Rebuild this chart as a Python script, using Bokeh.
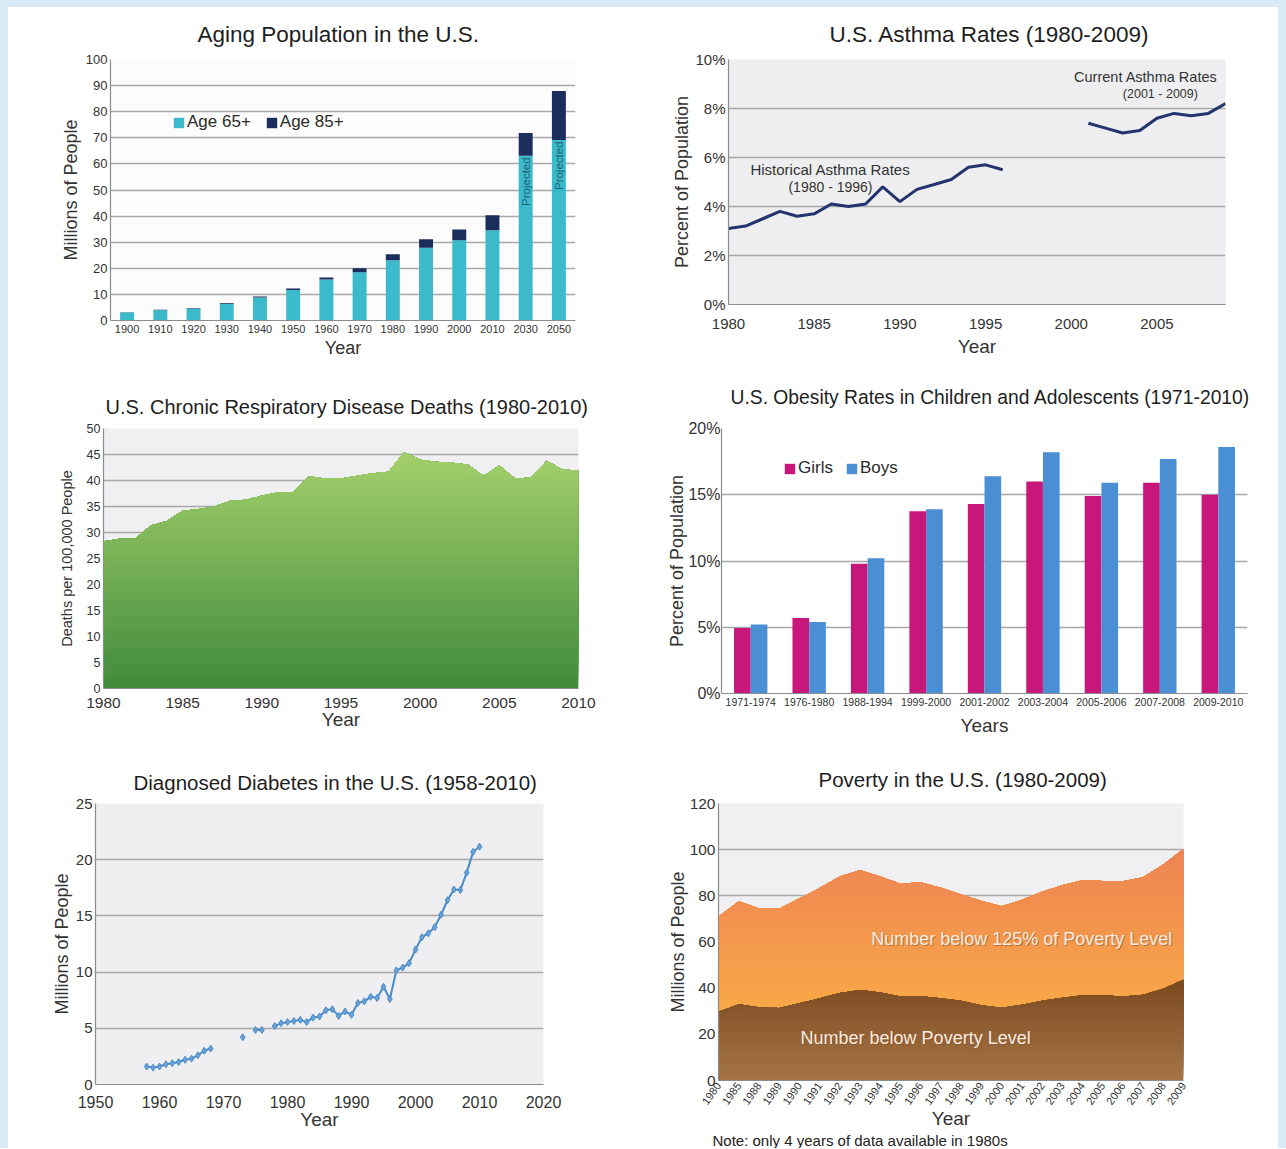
import math
import numpy as np
from bokeh.plotting import figure
from bokeh.layouts import column, row
from bokeh.models import (ColumnDataSource, FactorRange, Range1d, FixedTicker, Legend,
                          LegendItem, PrintfTickFormatter, Title)
from bokeh.transform import dodge
from bokeh.core.properties import value
from bokeh.embed import file_html
from bokeh.resources import INLINE

FONT = "Liberation Sans"
TXT = "#2b2b2b"
GRID = "#a8a8a8"
nan = float("nan")

# ---------------- data ----------------
aging_years = ["1900", "1910", "1920", "1930", "1940", "1950", "1960", "1970",
               "1980", "1990", "2000", "2010", "2030", "2050"]
age_65_84 = [3.1, 3.9, 4.6, 6.4, 8.8, 11.7, 15.7, 18.5, 23.1, 27.9, 30.7, 34.6, 63.1, 69.2]
age_85_plus = [0.1, 0.2, 0.2, 0.3, 0.4, 0.6, 0.8, 1.5, 2.3, 3.2, 4.2, 5.7, 8.7, 18.7]
projected_years = ["2030", "2050"]

asthma_hist_years = list(range(1980, 1997))
asthma_hist = [3.1, 3.2, 3.5, 3.8, 3.6, 3.7, 4.1, 4.0, 4.1, 4.8, 4.2, 4.7, 4.9, 5.1, 5.6, 5.7, 5.5]
asthma_curr_years = list(range(2001, 2010))
asthma_curr = [7.4, 7.2, 7.0, 7.1, 7.6, 7.8, 7.7, 7.8, 8.2]

resp_years = list(range(1980, 2011))
resp_deaths = [28.3, 28.8, 28.8, 31.4, 32.2, 34.2, 34.5, 35.0, 36.1, 36.3, 37.1, 37.7,
               37.8, 40.8, 40.4, 40.4, 40.9, 41.4, 41.7, 45.5, 44.0, 43.6, 43.4, 43.1,
               40.9, 42.9, 40.4, 40.6, 43.8, 42.1, 41.9]

obesity_periods = ["1971-1974", "1976-1980", "1988-1994", "1999-2000", "2001-2002",
                   "2003-2004", "2005-2006", "2007-2008", "2009-2010"]
obesity_girls = [4.95, 5.7, 9.8, 13.75, 14.3, 16.0, 14.9, 15.9, 15.0]
obesity_boys = [5.2, 5.4, 10.2, 13.9, 16.4, 18.2, 15.9, 17.7, 18.6]

diab_years = list(range(1958, 2011))
diab_millions = [1.6, 1.5, 1.6, 1.8, 1.9, 2.0, 2.2, 2.3, 2.6, 3.0, 3.2,
                 nan, nan, nan, nan, 4.2, nan, 4.85, 4.85, nan,
                 5.2, 5.45, 5.55, 5.65, 5.75, 5.55, 5.95, 6.05, 6.6, 6.7, 6.1, 6.5,
                 6.2, 7.25, 7.4, 7.8, 7.7, 8.7, 7.6, 10.15, 10.4, 10.8, 12.0, 13.1,
                 13.45, 14.0, 15.1, 16.4, 17.35, 17.3, 18.85, 20.7, 21.15]

poverty_years = ["1980", "1985", "1988", "1989"] + [str(y) for y in range(1990, 2010)]
below_poverty = [29.8, 33.0, 31.7, 31.4, 33.5, 35.6, 37.9, 39.2, 38.1, 36.4, 36.5, 35.6,
                 34.5, 32.6, 31.5, 32.8, 34.5, 35.8, 36.9, 36.9, 36.4, 37.2, 39.8, 43.6]
below_125pct = [41.2, 44.7, 42.9, 43.0, 45.3, 47.8, 50.5, 52.0, 50.3, 48.8, 49.4, 47.9,
                46.1, 45.3, 44.0, 45.5, 47.3, 48.8, 49.9, 49.5, 49.9, 50.9, 53.8, 56.7]


# ---------------- helpers ----------------
def hex_rgb(h):
    h = h.lstrip("#")
    return tuple(int(h[i:i + 2], 16) for i in (0, 2, 4))


def mix(c1, c2, t):
    a, b = hex_rgb(c1), hex_rgb(c2)
    return "#%02x%02x%02x" % tuple(int(round(a[i] + (b[i] - a[i]) * t)) for i in range(3))


def gradient_area(p, x, lower, upper, y_lo, y_hi, c_lo, c_hi, n=40):
    lower = np.asarray(lower, float)
    upper = np.asarray(upper, float)
    for k in range(n):
        lev = y_lo + (y_hi - y_lo) * k / n
        col = mix(c_lo, c_hi, k / (n - 1))
        y1 = np.minimum(np.maximum(lower, lev), upper)
        p.varea(x=x, y1=y1, y2=upper, fill_color=col, fill_alpha=1.0)


def make_fig(title, fw, fh, left, right, top, bottom, bg, x_range, y_range,
             title_size="20px", title_standoff=10, title_offset=0):
    p = figure(frame_width=fw, frame_height=fh, min_border_left=left, min_border_right=right,
               min_border_top=top, min_border_bottom=bottom, output_backend="svg",
               toolbar_location=None, background_fill_color=bg, border_fill_color="white",
               outline_line_color=None, x_range=x_range, y_range=y_range)
    p.title.text = title
    p.title.text_font = FONT
    p.title.text_font_size = title_size
    p.title.text_font_style = "normal"
    p.title.text_color = "#1e1e1e"
    p.title.align = "left"
    p.title.standoff = title_standoff
    p.title.offset = title_offset
    for ax in p.axis:
        ax.axis_line_color = "#8c8c8c"
        ax.axis_line_width = 1.2
        ax.major_tick_line_color = None
        ax.minor_tick_line_color = None
        ax.major_tick_out = 0
        ax.major_tick_in = 0
        ax.major_label_standoff = 3
        ax.major_label_text_font = FONT
        ax.major_label_text_color = "#333333"
        ax.major_label_text_font_size = "12px"
        ax.axis_label_text_font = FONT
        ax.axis_label_text_font_style = "normal"
        ax.axis_label_text_color = "#333333"
        ax.axis_label_text_font_size = "18px"
    p.xgrid.grid_line_color = None
    p.ygrid.grid_line_color = GRID
    p.ygrid.grid_line_width = 1.5
    return p


def style_legend(leg, size="17px"):
    leg.background_fill_alpha = 0
    leg.border_line_alpha = 0
    leg.padding = 0
    leg.margin = 0
    leg.glyph_width = 13
    leg.glyph_height = 13
    leg.label_standoff = 2
    leg.label_height = 14
    leg.label_text_font = FONT
    leg.label_text_font_size = size
    leg.label_text_color = TXT


# ---------------- 1. Aging population ----------------
p1 = make_fig("Aging Population in the U.S.", 465, 261, 102, 68, 52, 42, "#fcfcfc",
              FactorRange(*aging_years), Range1d(0, 100), title_size="22.5px",
              title_standoff=25, title_offset=87)
src1 = ColumnDataSource(dict(year=aging_years, a65=age_65_84, a85=age_85_plus))
r1 = p1.vbar_stack(["a65", "a85"], x="year", width=0.42, source=src1,
                   color=["#3bbacb", "#1b2d5c"], line_color=None)
proj_idx = [aging_years.index(y) for y in projected_years]
p1.text(x=projected_years, y=[age_65_84[i] - 0.6 for i in proj_idx], text=["Projected"] * 2,
        angle=math.pi / 2, text_align="right", text_baseline="middle",
        text_font=value(FONT), text_font_size="11.5px", text_color="#1f6478")
p1.yaxis.ticker = FixedTicker(ticks=list(range(0, 101, 10)))
p1.yaxis.major_label_text_font_size = "13px"
p1.yaxis.axis_label = "Millions of People"
p1.yaxis.axis_label_standoff = 2
p1.xaxis.axis_label = "Year"
p1.xaxis.axis_label_standoff = 2
p1.xaxis.major_label_text_font_size = "11px"
p1.xaxis.major_label_standoff = 4
leg1 = Legend(items=[LegendItem(label="Age 65+", renderers=[r1[0]]),
                     LegendItem(label="Age 85+", renderers=[r1[1]])],
              location=(62, 188), orientation="horizontal", spacing=14)
style_legend(leg1)
p1.add_layout(leg1)

# ---------------- 2. Asthma ----------------
p2 = make_fig("U.S. Asthma Rates (1980-2009)", 497, 245, 85, 53, 52, 58, "#eeeef0",
              Range1d(1980, 2009), Range1d(0, 10), title_size="22.5px",
              title_standoff=25, title_offset=101)
p2.line(asthma_hist_years, asthma_hist, line_width=3, color="#22336e")
p2.line(asthma_curr_years, asthma_curr, line_width=3, color="#22336e")
p2.text(x=[1985.95, 1985.95], y=[5.5, 4.8], text=["Historical Asthma Rates", "(1980 - 1996)"],
        text_align="center", text_baseline="middle", text_font=value(FONT),
        text_font_size=["15px", "14px"], text_color="#333333")
p2.text(x=[2004.35, 2005.2], y=[9.3, 8.6], text=["Current Asthma Rates", "(2001 - 2009)"],
        text_align="center", text_baseline="middle", text_font=value(FONT),
        text_font_size=["14.5px", "12.5px"], text_color="#333333")
p2.xaxis.ticker = FixedTicker(ticks=list(range(1980, 2006, 5)))
p2.yaxis.ticker = FixedTicker(ticks=list(range(0, 11, 2)))
p2.yaxis.formatter = PrintfTickFormatter(format="%d%%")
p2.xaxis.major_label_text_font_size = "15px"
p2.yaxis.major_label_text_font_size = "15px"
p2.xaxis.major_label_standoff = 14
p2.xaxis.axis_label = "Year"
p2.xaxis.axis_label_text_font_size = "19px"
p2.xaxis.axis_label_standoff = 4
p2.yaxis.axis_label = "Percent of Population"
p2.yaxis.axis_label_standoff = 0

# ---------------- 3. Chronic respiratory ----------------
p3 = make_fig("U.S. Chronic Respiratory Disease Deaths (1980-2010)", 475, 260, 95, 65, 66, 60,
              "#f0f0f2", Range1d(1980, 2010), Range1d(0, 50), title_size="20px",
              title_standoff=22, title_offset=2)
gradient_area(p3, resp_years, np.zeros(len(resp_years)), resp_deaths, 0, 46,
              "#438b3c", "#a3d06b", n=40)
p3.xaxis.ticker = FixedTicker(ticks=list(range(1980, 2011, 5)))
p3.yaxis.ticker = FixedTicker(ticks=list(range(0, 51, 5)))
p3.yaxis.major_label_text_font_size = "12.5px"
p3.xaxis.major_label_text_font_size = "15.5px"
p3.xaxis.major_label_standoff = 9
p3.xaxis.axis_label = "Year"
p3.xaxis.axis_label_text_font_size = "19px"
p3.xaxis.axis_label_standoff = -2
p3.yaxis.axis_label = "Deaths per 100,000 People"
p3.yaxis.axis_label_text_font_size = "14.5px"
p3.yaxis.axis_label_standoff = 9

# ---------------- 4. Obesity ----------------
p4 = make_fig("U.S. Obesity Rates in Children and Adolescents (1971-2010)", 526, 265, 78, 31, 66,
              55, "#ffffff", FactorRange(*obesity_periods), Range1d(0, 20),
              title_size="19.3px", title_standoff=42, title_offset=9)
src4 = ColumnDataSource(dict(period=obesity_periods, girls=obesity_girls, boys=obesity_boys))
rg = p4.vbar(x=dodge("period", -0.143, range=p4.x_range), top="girls", width=0.285,
             source=src4, color="#c8177a", line_color=None)
rb = p4.vbar(x=dodge("period", 0.143, range=p4.x_range), top="boys", width=0.285,
             source=src4, color="#4a8ed4", line_color=None)
p4.yaxis.ticker = FixedTicker(ticks=list(range(0, 21, 5)))
p4.yaxis.formatter = PrintfTickFormatter(format="%d%%")
p4.yaxis.major_label_text_font_size = "16px"
p4.yaxis.major_label_standoff = 1
p4.xaxis.major_label_text_font_size = "10.5px"
p4.xaxis.major_label_standoff = 4
p4.xaxis.axis_label = "Years"
p4.xaxis.axis_label_text_font_size = "19px"
p4.xaxis.axis_label_standoff = 6
p4.yaxis.axis_label = "Percent of Population"
p4.yaxis.axis_label_standoff = -2
leg4 = Legend(items=[LegendItem(label="Girls", renderers=[rg]),
                     LegendItem(label="Boys", renderers=[rb])],
              location=(62, 215), orientation="horizontal", spacing=12)
style_legend(leg4)
p4.add_layout(leg4)

# ---------------- 5. Diabetes ----------------
p5 = make_fig("Diagnosed Diabetes in the U.S. (1958-2010)", 448, 281, 87, 100, 55, 64, "#efeff1",
              Range1d(1950, 2020), Range1d(0, 25), title_size="20.5px",
              title_standoff=20, title_offset=38)
src5 = ColumnDataSource(dict(year=diab_years, val=diab_millions))
p5.line("year", "val", source=src5, line_width=2, color="#4a8ac8")
p5.scatter("year", "val", source=src5, marker="diamond", size=7, fill_color="#6aa3d8",
           line_color="#4a8ac8", line_width=1)
p5.xaxis.ticker = FixedTicker(ticks=list(range(1950, 2021, 10)))
p5.yaxis.ticker = FixedTicker(ticks=list(range(0, 26, 5)))
p5.xaxis.major_label_text_font_size = "16px"
p5.yaxis.major_label_text_font_size = "15px"
p5.xaxis.major_label_standoff = 11
p5.xaxis.axis_label = "Year"
p5.xaxis.axis_label_text_font_size = "19px"
p5.xaxis.axis_label_standoff = -2
p5.yaxis.axis_label = "Millions of People"
p5.yaxis.axis_label_standoff = 1

# ---------------- 6. Poverty ----------------
pov_x = list(range(len(poverty_years)))
pov_low = np.asarray(below_poverty, float)
pov_top = pov_low + np.asarray(below_125pct, float)
p6 = make_fig("Poverty in the U.S. (1980-2009)", 465, 277, 75, 95, 55, 68, "#f0f0f2",
              Range1d(0, len(poverty_years) - 1), Range1d(0, 120), title_size="20.5px",
              title_standoff=25, title_offset=100)
gradient_area(p6, pov_x, pov_low, pov_top, 28, 100, "#f9a947", "#ee8453", n=40)
gradient_area(p6, pov_x, np.zeros(len(pov_x)), pov_low, 0, 44, "#a57446", "#7b4a1f", n=30)
lab_x = [15.0, 9.75]
lab_y = [61.3, 18.3]
lab_t = ["Number below 125% of Poverty Level", "Number below Poverty Level"]
p6.text(x=lab_x, y=lab_y, text=lab_t, text_align="center", text_baseline="middle",
        x_offset=1, y_offset=1, text_font=value(FONT), text_font_size="18px",
        text_color="#8a4a20", text_alpha=0.55)
p6.text(x=lab_x, y=lab_y, text=lab_t, text_align="center", text_baseline="middle",
        text_font=value(FONT), text_font_size="18px", text_color="#f8ece0")
p6.xaxis.ticker = FixedTicker(ticks=pov_x)
p6.xaxis.major_label_overrides = {i: y for i, y in zip(pov_x, poverty_years)}
p6.xaxis.major_label_orientation = 0.95
p6.xaxis.major_label_text_font_size = "11px"
p6.xaxis.major_label_standoff = 3
p6.xaxis.axis_label = "Year"
p6.xaxis.axis_label_text_font_size = "19px"
p6.xaxis.axis_label_standoff = -3
p6.yaxis.ticker = FixedTicker(ticks=list(range(0, 121, 20)))
p6.yaxis.major_label_text_font_size = "15.5px"
p6.yaxis.axis_label = "Millions of People"
p6.yaxis.axis_label_standoff = -1
p6.add_layout(Title(text="Note: only 4 years of data available in 1980s", align="left",
                    text_font=FONT, text_font_size="15px", text_font_style="normal",
                    text_color="#222222", offset=-6, standoff=-6), "below")

inner = column(row(p1, p2), row(p3, p4), row(p5, p6), styles={"background-color": "white"})
layout = column(inner, styles={"background-color": "#d8ebf6", "padding-left": "8px",
                               "padding-top": "7px", "padding-right": "8px"})
open("out.html", "w").write(file_html(layout, INLINE))
